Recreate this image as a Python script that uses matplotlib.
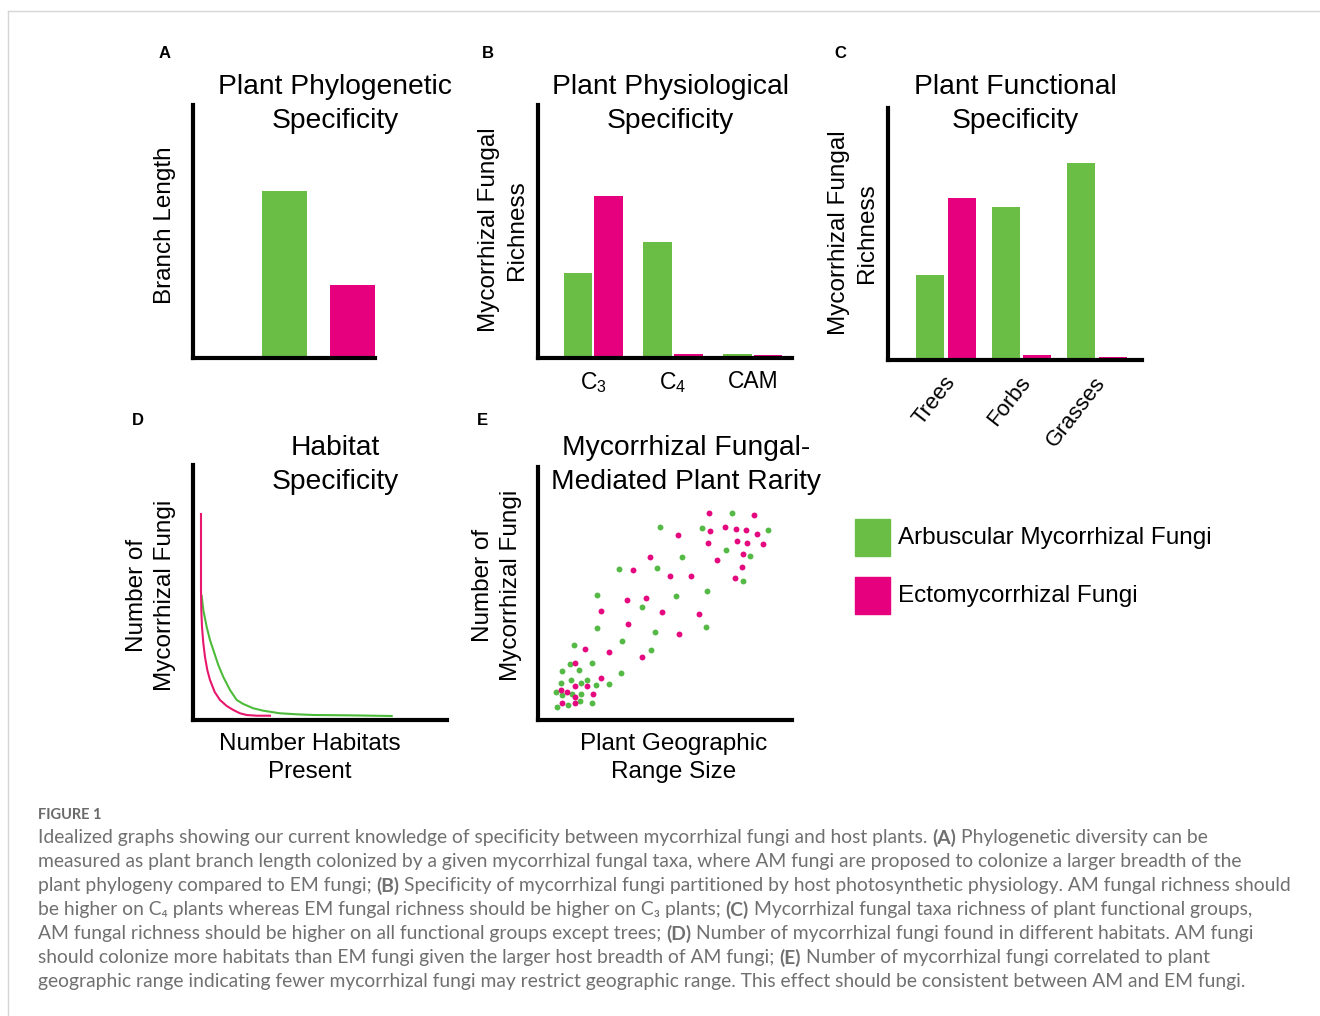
import matplotlib
matplotlib.use('Agg')
import matplotlib.pyplot as plt
from matplotlib.patches import Rectangle
from matplotlib.lines import Line2D

# ---- data (arbitrary units) ----
phylo_cats = ['AM', 'EM']
phylo_vals = [0.66, 0.29]

physio_cats = [r'$\mathrm{C}_{3}$', r'$\mathrm{C}_{4}$', 'CAM']
physio_am = [0.336, 0.458, 0.016]
physio_em = [0.640, 0.016, 0.012]

func_cats = ['Trees', 'Forbs', 'Grasses']
func_am = [0.337, 0.607, 0.78]
func_em = [0.643, 0.020, 0.012]

# habitat specificity curves
em_curve_x = [8, 8, 8.3, 9, 10.3, 12, 14.3, 17, 21.7, 27, 33.7, 40.3, 47, 53.7, 63.7, 77]
em_curve_y = [206, 130, 110, 93, 77, 63, 50, 40, 28, 20, 14, 10, 6.7, 5, 4.3, 4.3]
am_curve_x = [8.7, 10.3, 13.7, 17, 20.3, 25.3, 30.3, 37, 43.7, 50.3, 60.3, 70.3, 87, 103.7, 120.3, 153.7, 198.7]
am_curve_y = [124, 110, 93, 80, 70, 55, 43, 30, 20, 16, 11.7, 9.3, 6.7, 5.7, 5, 4.7, 4]

# rarity scatter
am_x = [194, 122, 164, 230, 188, 212, 144, 81, 119, 205, 169, 59, 138, 104, 59, 168, 117, 84, 36, 113,
        32, 54, 41, 24, 83, 23, 33, 43, 49, 58, 71, 18, 24, 34, 43, 42, 54, 30, 19]
am_y = [207, 193, 192, 190, 170, 164, 163, 151, 152, 139, 129, 125, 124, 113, 92, 93, 88, 79, 75, 70,
        56, 57, 50, 49, 47, 37, 40, 37, 40, 35, 36, 28, 25, 26, 26, 19, 17, 15, 13]
em_x = [171, 216, 172, 187, 198, 208, 219, 140, 170, 199, 209, 225, 205, 112, 179, 95, 204, 132, 153, 197,
        89, 108, 63, 124, 161, 90, 141, 47, 71, 104, 37, 63, 37, 49, 23, 29, 55, 37, 24, 37]
em_y = [207, 205, 189, 193, 191, 190, 186, 185, 177, 179, 177, 176, 166, 163, 160, 150, 153, 144, 144, 142,
        120, 122, 109, 108, 106, 96, 86, 71, 68, 63, 57, 42, 34, 34, 30, 28, 26, 23, 17, 17]

legend_labels = ['Arbuscular Mycorrhizal Fungi', 'Ectomycorrhizal Fungi']

caption_lines = [
    [("Idealized graphs showing our current knowledge of specificity between mycorrhizal fungi and host plants.", False),
     ("(A)", True), ("Phylogenetic diversity can be", False)],
    [("measured as plant branch length colonized by a given mycorrhizal fungal taxa, where AM fungi are proposed to colonize a larger breadth of the", False)],
    [("plant phylogeny compared to EM fungi;", False), ("(B)", True),
     ("Specificity of mycorrhizal fungi partitioned by host photosynthetic physiology. AM fungal richness should", False)],
    [("be higher on C\u2084 plants whereas EM fungal richness should be higher on C\u2083 plants;", False), ("(C)", True),
     ("Mycorrhizal fungal taxa richness of plant functional groups,", False)],
    [("AM fungal richness should be higher on all functional groups except trees;", False), ("(D)", True),
     ("Number of mycorrhizal fungi found in different habitats. AM fungi", False)],
    [("should colonize more habitats than EM fungi given the larger host breadth of AM fungi;", False), ("(E)", True),
     ("Number of mycorrhizal fungi correlated to plant", False)],
    [("geographic range indicating fewer mycorrhizal fungi may restrict geographic range. This effect should be consistent between AM and EM fungi.", False)],
]

GREEN = '#6abd45'
PINK = '#e6007e'

plt.rcParams['font.family'] = ['Liberation Sans', 'DejaVu Sans']
plt.rcParams['mathtext.fontset'] = 'custom'
plt.rcParams['mathtext.rm'] = 'Liberation Sans'
plt.rcParams['mathtext.it'] = 'Liberation Sans:italic'
plt.rcParams['mathtext.bf'] = 'Liberation Sans:bold'

W, H = 1320, 1016
fig = plt.figure(figsize=(W / 100, H / 100), dpi=100)


def fx(x):
    return x / W


def fy(y):
    return 1 - y / H


def box(l, t, r, b):
    return [l / W, 1 - b / H, (r - l) / W, (b - t) / H]


def style(ax):
    for s in ['top', 'right']:
        ax.spines[s].set_visible(False)
    for s in ['left', 'bottom']:
        ax.spines[s].set_linewidth(3)
        ax.spines[s].set_capstyle('projecting')
    ax.set_yticks([])
    ax.tick_params(axis='x', length=0)
    ax.patch.set_alpha(0)


# ---- A ----
ax = fig.add_axes(box(193, 105, 375, 358))
ax.bar([0, 1], phylo_vals, width=0.66, color=[GREEN, PINK])
ax.set_xlim(-1.346, 1.331)
ax.set_ylim(0, 1)
ax.set_xticks([])
style(ax)

# ---- B ----
ax = fig.add_axes(box(538, 105, 792, 358))
pos = list(range(len(physio_cats)))
ax.bar([p - 0.19 for p in pos], physio_am, width=0.36, color=GREEN)
ax.bar([p + 0.19 for p in pos], physio_em, width=0.36, color=PINK)
ax.set_xlim(-0.69, 2.49)
ax.set_ylim(0, 1)
ax.set_xticks(pos)
ax.set_xticklabels(physio_cats, fontsize=16.5)
ax.tick_params(axis='x', pad=9)
style(ax)

# ---- C ----
ax = fig.add_axes(box(888, 108, 1142, 360))
pos = list(range(len(func_cats)))
ax.bar([p - 0.21 for p in pos], func_am, width=0.37, color=GREEN)
ax.bar([p + 0.21 for p in pos], func_em, width=0.37, color=PINK)
ax.set_xlim(-0.77, 2.6)
ax.set_ylim(0, 1)
ax.set_xticks([p - 0.04 for p in pos])
ax.set_xticklabels(func_cats, fontsize=16, rotation=52, ha='right', va='top',
                   rotation_mode='anchor')
ax.tick_params(axis='x', pad=9)
style(ax)

# ---- D ----
ax = fig.add_axes(box(193, 465, 447, 720))
ax.plot(am_curve_x, am_curve_y, color='#4dbb3a', lw=1.5)
ax.plot(em_curve_x, em_curve_y, color='#e8176e', lw=1.5)
ax.set_xlim(0, 254)
ax.set_ylim(0, 255)
ax.set_xticks([])
style(ax)

# ---- E ----
ax = fig.add_axes(box(538, 467, 792, 720))
ax.scatter(am_x, am_y, s=18, color='#55b946', linewidths=0)
ax.scatter(em_x, em_y, s=18, color='#e5097f', linewidths=0)
ax.set_xlim(0, 254)
ax.set_ylim(0, 253)
ax.set_xticks([])
style(ax)

# titles, axis labels, panel letters
tkw = dict(fontsize=20.3, ha='center', va='center', linespacing=1.38)
fig.text(fx(335), fy(104), 'Plant Phylogenetic\nSpecificity', **tkw)
fig.text(fx(670), fy(104), 'Plant Physiological\nSpecificity', **tkw)
fig.text(fx(1015), fy(104), 'Plant Functional\nSpecificity', **tkw)
fig.text(fx(335), fy(465), 'Habitat\nSpecificity', **tkw)
fig.text(fx(686), fy(465), 'Mycorrhizal Fungal-\nMediated Plant Rarity', **tkw)

lkw = dict(fontsize=17.5, ha='center', va='center', linespacing=1.3)
fig.text(fx(165), fy(225), 'Branch Length', rotation=90, **lkw)
fig.text(fx(503), fy(230), 'Mycorrhizal Fungal\nRichness', rotation=90, **lkw)
fig.text(fx(853), fy(233), 'Mycorrhizal Fungal\nRichness', rotation=90, **lkw)
fig.text(fx(151), fy(595), 'Number of\nMycorrhizal Fungi', rotation=90, **lkw)
fig.text(fx(497), fy(585), 'Number of\nMycorrhizal Fungi', rotation=90, **lkw)
fig.text(fx(310), fy(758), 'Number Habitats\nPresent', **lkw)
fig.text(fx(674), fy(758), 'Plant Geographic\nRange Size', **lkw)

for letter, x, y in [('A', 165, 53), ('B', 488, 53), ('C', 840, 53), ('D', 138, 421), ('E', 482, 421)]:
    fig.text(fx(x), fy(y), letter, fontsize=12, fontweight='bold', ha='center', va='center')

# legend
for i, (lab, col) in enumerate(zip(legend_labels, [GREEN, PINK])):
    top = 519 + i * 58
    fig.add_artist(Rectangle((fx(855), fy(top + 37)), 35 / W, 37 / H, color=col,
                             transform=fig.transFigure))
    fig.text(fx(898), fy(top + 19), lab, fontsize=17.5, ha='left', va='center')

# frame of the figure card
fig.add_artist(Line2D([fx(8), 1], [fy(11), fy(11)], color='#d6d6d6', lw=1))
fig.add_artist(Line2D([fx(8), fx(8)], [fy(11), 0], color='#d6d6d6', lw=1))

# caption
cap_font = ['Lato', 'DejaVu Sans']
cap_col = '#707070'
cap_size = 13.9
fig.text(fx(38), fy(815), 'FIGURE 1', fontsize=10.5, color='#6a6a6a', family=cap_font,
         ha='left', va='center', fontweight='bold')

r = fig.canvas.get_renderer()
probe1 = fig.text(0, 0, 'x x', fontsize=cap_size, family=cap_font)
probe2 = fig.text(0, 0, 'xx', fontsize=cap_size, family=cap_font)
space_w = probe1.get_window_extent(r).width - probe2.get_window_extent(r).width
probe1.remove()
probe2.remove()

for i, parts in enumerate(caption_lines):
    x = 38
    y = 838 + i * 24
    for txt, bold in parts:
        t = fig.text(fx(x), fy(y), txt, fontsize=cap_size, color=cap_col, family=cap_font,
                     fontweight='bold' if bold else 'normal', ha='left', va='center')
        x += t.get_window_extent(r).width + space_w

fig.savefig('out.png', dpi=100)
